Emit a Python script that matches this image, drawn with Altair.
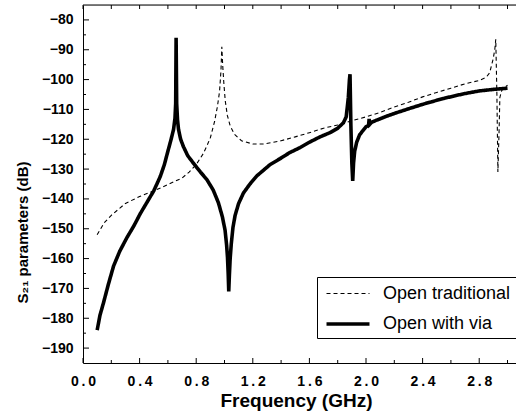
import altair as alt
import pandas as pd

# ---- data ----
trad_f = [0.10, 0.15, 0.20, 0.30, 0.40, 0.50, 0.60, 0.70, 0.75, 0.80, 0.85, 0.875, 0.90,
          0.93, 0.95, 0.965, 0.975, 0.981, 0.987, 0.995, 1.005, 1.02, 1.04, 1.07, 1.12,
          1.20, 1.28, 1.40, 1.50, 1.60, 1.70, 1.80, 1.90, 2.00, 2.10, 2.20, 2.30, 2.40,
          2.50, 2.60, 2.70, 2.80, 2.85, 2.874, 2.898, 2.91, 2.917, 2.925, 2.932, 2.940,
          2.946, 2.96, 3.00]
trad_db = [-152, -148, -145.5, -141.5, -139.2, -137.3, -135.2, -133, -131, -128.5, -124.8, -122.3, -119.5,
           -114, -109, -104, -97, -89, -95, -101, -107, -112, -115.5, -118.3, -120.5,
           -121.6, -121.6, -120.5, -119.2, -117.8, -116.3, -115.2, -113.8, -112.5, -111, -109.2, -107.6, -105.8,
           -104.3, -102.9, -101.4, -100.3, -99.2, -97.7, -93.2, -90, -86.5, -105, -131, -118,
           -106, -103.5, -101.9]

via_f = [0.10, 0.12, 0.145, 0.18, 0.216, 0.26, 0.31, 0.36, 0.404, 0.45, 0.50, 0.546, 0.575,
         0.60, 0.62, 0.64, 0.650, 0.655, 0.658, 0.662, 0.668, 0.675, 0.69, 0.71, 0.74, 0.78,
         0.83, 0.875, 0.92, 0.957, 0.985, 1.004, 1.015, 1.021, 1.026, 1.030, 1.035, 1.040,
         1.048, 1.06, 1.075, 1.10, 1.134, 1.18, 1.228, 1.28, 1.322, 1.393, 1.46, 1.534,
         1.60, 1.675, 1.745, 1.80, 1.84, 1.86, 1.875, 1.883, 1.887, 1.893, 1.900, 1.906,
         1.912, 1.92, 1.934, 1.955, 1.98, 2.00, 2.018, 2.022, 2.026, 2.04, 2.075, 2.15,
         2.216, 2.30, 2.40, 2.45, 2.55, 2.686, 2.80, 2.92, 3.00]
via_db = [-184, -179, -174.8, -168.5, -162.5, -157.5, -153, -149, -145, -141.3, -137.3, -132.5, -128.5,
          -124, -120.5, -116.7, -113, -108, -86, -108, -113.5, -116.7, -120, -122.5, -125.5, -128,
          -131, -133.5, -137, -141.3, -146, -150.5, -155.5, -159.5, -165, -171, -165, -160,
          -155, -149.5, -145.5, -141.5, -138, -135, -132.3, -130.2, -128.5, -126.5, -124.5, -122.8,
          -121, -119.2, -117.8, -116.3, -114.5, -112.5, -106, -100, -98.2, -115, -128, -134,
          -128, -124, -121, -118.5, -117, -115.8, -115.4, -113.2, -115.0, -114.3, -113.6, -112.2,
          -111.1, -109.8, -108.3, -107.6, -106.3, -104.8, -103.8, -103.2, -102.9]

series_names = ["Open traditional", "Open with via"]

y_major = [-190, -180, -170, -160, -150, -140, -130, -120, -110, -100, -90, -80]
y_minor = [-185, -175, -165, -155, -145, -135, -125, -115, -105, -95, -85]
x_major = [0.0, 0.4, 0.8, 1.2, 1.6, 2.0, 2.4, 2.8]
x_minor = [0.2, 0.6, 1.0, 1.4, 1.8, 2.2, 2.6, 3.0]
x_top = [0.0, 0.2, 0.4, 0.6, 0.8, 1.0, 1.2, 1.4, 1.6, 1.8, 2.0, 2.2, 2.4, 2.6, 2.8, 3.0]

# ---- build table ----
rows = []
for f, d in zip(trad_f, trad_db):
    rows.append({"f": f, "db": d, "series": series_names[0]})
for f, d in zip(via_f, via_db):
    rows.append({"f": f, "db": d, "series": series_names[1]})
df = pd.DataFrame(rows)
df["i"] = range(len(df))

W, H = 433, 358
XDOM = [0, 3.06]
YDOM = [-195, -75]
FONT = "Liberation Sans"

xs = alt.Scale(domain=XDOM, nice=False, zero=False)
ys = alt.Scale(domain=YDOM, nice=False, zero=False)

xaxis = alt.Axis(values=x_major, format=".1f",
                 labelExpr="replace(datum.label, '.', '\u2009.\u2009')",
                 labelFont=FONT, labelFontSize=14, labelFontWeight="bold",
                 labelColor="black", labelPadding=11, labelFlush=False,
                 tickSize=0, grid=False, domainColor="black", domainWidth=1,
                 title="Frequency (GHz)", titleFont=FONT, titleFontSize=19,
                 titleFontWeight="bold", titleColor="black",
                 titleX=213, titleY=43, titleBaseline="alphabetic")
yaxis = alt.Axis(values=y_major, format="d",
                 labelFont=FONT, labelFontSize=14, labelFontWeight="bold",
                 labelColor="black", labelPadding=10, labelFlush=False,
                 tickSize=0, grid=False, domainColor="black", domainWidth=1,
                 title="S\u2082\u2081 parameters (dB)", titleFont=FONT,
                 titleFontSize=15, titleFontWeight="bold", titleColor="black",
                 titleX=-53, titleY=227)

leg = alt.Legend(
    title=None, orient="none", legendX=234, legendY=272,
    strokeColor="black", fillColor="white", padding=5,
    symbolType="M-2,0H2", symbolSize=462, symbolStrokeColor="black",
    symbolFillColor="transparent", symbolOffset=13,
    labelFont=FONT, labelFontSize=18, labelColor="black", labelOffset=22,
    rowPadding=8,
)

lines = alt.Chart(df).mark_line(color="black", clip=True).encode(
    x=alt.X("f:Q", scale=xs, axis=xaxis),
    y=alt.Y("db:Q", scale=ys, axis=yaxis),
    strokeDash=alt.StrokeDash("series:N",
                              scale=alt.Scale(domain=series_names, range=[[4, 3], [1, 0]]),
                              legend=leg),
    strokeWidth=alt.StrokeWidth("series:N",
                                scale=alt.Scale(domain=series_names, range=[1.1, 3.6]),
                                legend=leg),
    order="i:Q",
)


def xrule(vals, y0, y1):
    return alt.Chart(pd.DataFrame({"f": vals})).mark_rule(color="black", strokeWidth=1).encode(
        x=alt.X("f:Q", scale=xs, axis=xaxis), y=alt.value(y0), y2=alt.value(y1))


def yrule(vals, length):
    return alt.Chart(pd.DataFrame({"db": vals})).mark_rule(color="black", strokeWidth=1).encode(
        y=alt.Y("db:Q", scale=ys, axis=yaxis), x=alt.value(0), x2=alt.value(length))


frame_top = alt.Chart(alt.Data(values=[{"a": 1}])).mark_rule(color="black", strokeWidth=1).encode(
    x=alt.value(0), x2=alt.value(W), y=alt.value(0))

chart = alt.layer(
    lines,
    yrule(y_major, 6), yrule(y_minor, 3),
    xrule(x_major, H, H - 5), xrule(x_minor, H, H - 3), xrule(x_top, 0, 4),
    frame_top,
).properties(
    width=W, height=H,
    padding={"left": 83, "top": 5, "right": 0, "bottom": 49},
    autosize=alt.AutoSizeParams(type="none"),
).configure_view(stroke=None).configure(background="white")

chart.save("out.html", embed_options={"renderer": "svg", "actions": False})
